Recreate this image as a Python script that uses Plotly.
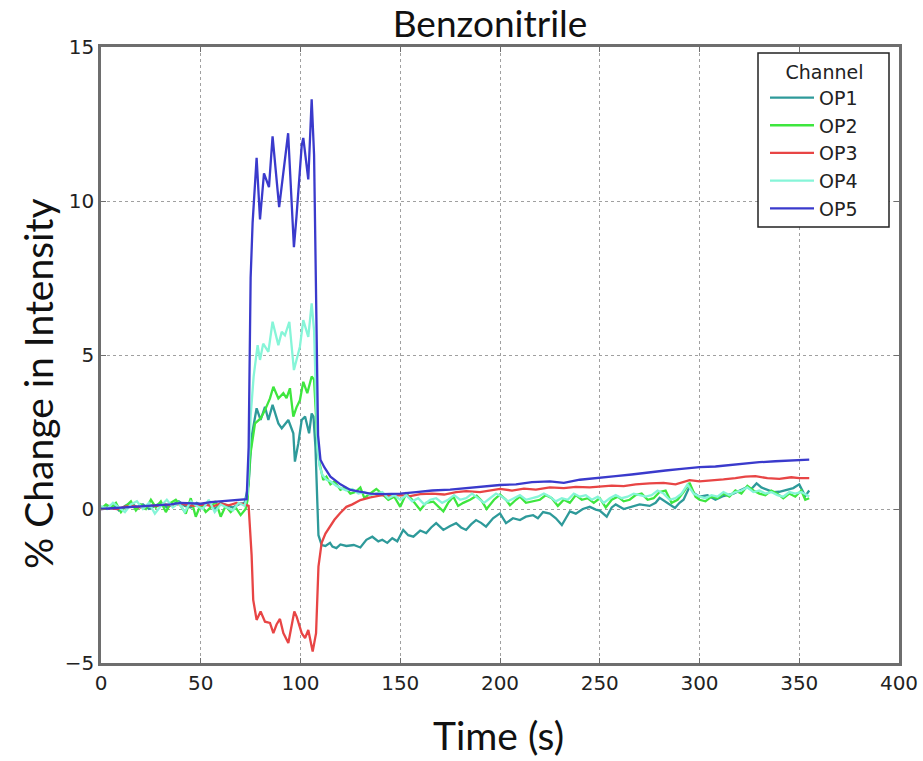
import plotly.graph_objects as go

# ---------------- data ----------------
t_op1 = [0, 3, 6, 9, 12, 15, 18, 21, 24, 27, 30, 33, 36, 39, 42, 45, 48, 51, 54, 57, 60, 63, 66, 69, 72,
         74, 75.5, 78, 80, 82.2, 83.9, 86, 88.9, 90.6, 93.9, 96.4, 97.2, 98.9, 100.6, 102.3, 104.3, 105.6, 106.5, 107.5,
         108.3, 109, 110.6, 112.5, 114.8, 116, 118, 120, 123, 126.7, 130, 133, 136, 139, 141, 143.5, 146, 148.5,
         151.5, 154, 156.6, 160, 163, 165.5, 168, 171.6, 175, 178, 180.5, 183, 185.5, 188, 190.5, 193, 196.5,
         200, 203, 206.5, 210, 213, 216.6, 219, 221.6, 225, 228, 231, 233, 235, 238, 241.5, 245, 248, 250,
         253.5, 256, 258, 262, 266, 270, 275, 278, 280, 284, 287.7, 290, 292, 295, 297.5, 300, 304, 308, 312,
         317, 320, 323.5, 326, 328.6, 331, 334, 337, 340, 343.5, 347, 350, 353, 355]
v_op1 = [0.0, 0.05, 0.15, -0.05, 0.1, 0.2, 0.05, 0.15, 0.0, 0.1, 0.2, 0.05, 0.15, 0.25, 0.1, 0.05, 0.2, 0.1, 0.15, 0.0, 0.2, 0.12, 0.05, 0.15, 0.2,
         0.8, 2.35, 3.27, 2.89, 3.32, 2.89, 3.38, 2.78, 2.62, 2.89, 2.46, 1.54, 2.13, 2.89, 3.0, 2.46, 3.1, 3.0, 2.0,
         0.2, -0.85, -1.17, -1.2, -1.1, -1.22, -1.27, -1.15, -1.2, -1.17, -1.25, -1.0, -0.9, -1.05, -1.0, -1.1, -0.95, -1.05,
         -0.68, -0.85, -0.9, -0.7, -0.78, -0.6, -0.46, -0.68, -0.55, -0.46, -0.6, -0.68, -0.5, -0.36, -0.45, -0.57, -0.3,
         -0.14, -0.46, -0.3, -0.36, -0.25, -0.2, -0.3, -0.1, -0.15, -0.3, -0.52, -0.3, -0.08, -0.15, 0.0, 0.07, -0.02, -0.05,
         -0.25, 0.05, 0.15, 0.0, 0.07, 0.15, 0.1, 0.2, 0.36, 0.2, 0.03, 0.2, 0.3, 0.72, 0.5, 0.4, 0.45, 0.3, 0.42,
         0.5, 0.6, 0.7, 0.65, 0.83, 0.7, 0.62, 0.55, 0.56, 0.62, 0.68, 0.8, 0.42, 0.6]

t_op2 = [0, 2.5, 5, 7.5, 10, 12.5, 15, 17.5, 20, 22.5, 25, 27.5, 30, 32.5, 35, 37.5, 40, 42.5, 45, 47.5,
         50, 52.5, 55, 57.5, 60, 62.5, 65, 67.5, 70, 72.5,
         73.5, 74.7, 77.2, 80, 82.2, 84.7, 86.4, 88.9, 91.4, 93, 94.7, 96.4, 98, 99.7, 101.4, 103.4, 105.6, 106.8, 107.8, 108.5,
         109.5, 111.4, 113, 115, 117, 120, 122.5, 125, 127.5, 130, 132, 135, 138, 141.6, 144, 147, 150, 153, 156, 160,
         163, 166.6, 169, 171.6, 174, 176.6, 179, 181.6, 185, 188.3, 191, 193.3, 197, 200, 203, 205, 208, 210, 213, 216.6,
         220, 223, 226, 229, 232, 235, 238, 241, 244, 247, 250, 253, 256, 259, 262, 265, 268, 271, 274, 277,
         280, 283, 286, 289, 292, 295, 298, 300, 303, 306, 309, 312, 315, 318, 321, 324, 327, 330, 333, 336,
         339, 342, 345, 348, 351, 353, 355]
v_op2 = [0.0, 0.15, 0.05, 0.2, -0.1, 0.1, 0.25, -0.05, 0.15, 0.0, 0.3, 0.05, 0.25, -0.1, 0.2, 0.3, 0.1, -0.15, 0.35, -0.25,
         0.15, -0.1, 0.05, 0.25, -0.25, 0.1, -0.1, 0.05, -0.2, 0.0,
         0.3, 1.7, 2.78, 2.94, 3.21, 3.59, 3.97, 3.59, 3.76, 3.6, 3.92, 3.0, 3.3, 3.53, 4.13, 3.76, 4.3, 4.2, 3.0, 2.0,
         1.5, 0.94, 1.05, 0.8, 0.9, 0.62, 0.7, 0.5, 0.55, 0.7, 0.36, 0.5, 0.65, 0.45, 0.3, 0.4, 0.07, 0.5, 0.3, -0.03,
         0.2, 0.24, 0.1, -0.08, 0.2, 0.4, 0.1, 0.2, 0.3, 0.43, 0.25, 0.0, 0.3, 0.47, 0.3, 0.12, 0.3, 0.4, 0.2, 0.25,
         0.3, 0.45, 0.35, 0.1, 0.3, 0.2, 0.45, 0.3, 0.35, 0.2, 0.35, 0.05, 0.3, 0.4, 0.25, 0.3, 0.45, 0.5, 0.3, 0.35,
         0.55, 0.6, 0.2, 0.3, 0.55, 0.85, 0.4, 0.3, 0.25, 0.4, 0.35, 0.5, 0.4, 0.6, 0.5, 0.75, 0.6, 0.5, 0.45, 0.6,
         0.5, 0.35, 0.5, 0.4, 0.6, 0.3, 0.35]

t_op3 = [0, 4, 8, 12, 16, 20, 24, 28, 32, 36, 40, 44, 48, 52, 56, 60, 64, 68, 72,
         74, 75.5, 76.3, 78, 80, 82.2, 84.7, 86.4, 88, 89.7, 91.4, 93.9, 96.9, 98.1, 100.6, 102.3, 103.9, 106.1, 107.8,
         109, 110.6, 112.5, 114.8, 117, 119.8, 123, 126, 130, 135, 141, 146,
         150, 155, 160, 166, 172, 178, 183, 190, 196, 200,
         206, 212, 218, 225, 232, 238, 245, 250, 256, 262,
         268, 275, 282, 288, 295, 300, 306, 312, 318, 323,
         328, 334, 340, 346, 350, 355]
v_op3 = [0.0, 0.03, 0.0, 0.08, 0.1, 0.05, 0.12, 0.1, 0.15, 0.1, 0.18, 0.12, 0.1, 0.15, 0.08, 0.18, 0.12, 0.2, 0.15,
         0.1, -1.5, -2.95, -3.6, -3.33, -3.66, -3.7, -4.03, -3.75, -3.57, -4.03, -4.35, -3.33, -3.5, -4.03, -4.19, -3.93, -4.63, -4.03,
         -1.87, -1.1, -0.8, -0.57, -0.35, -0.14, 0.07, 0.15, 0.29, 0.38, 0.45, 0.42,
         0.45, 0.42, 0.48, 0.5, 0.47, 0.55, 0.58, 0.55, 0.62, 0.65,
         0.6, 0.66, 0.63, 0.7, 0.68, 0.72, 0.7, 0.72, 0.76, 0.74,
         0.8, 0.83, 0.85, 0.8, 0.94, 0.9, 0.92, 0.96, 1.0, 1.05,
         1.07, 1.0, 0.98, 1.03, 1.0, 1.0]

t_op4 = [0, 3, 6, 9, 12, 15, 18, 21, 24, 27, 30, 33, 36, 39, 42, 45, 48, 51, 54, 57, 60, 63, 66, 69, 72,
         73.5, 75, 76.5, 77.2, 78.5, 79.7, 81.3, 83.9, 86, 88.9, 90.6, 92.2, 94.4, 96.7, 98, 99.7, 101.4, 103.9, 105.6, 106.8, 107.8, 108.5,
         109.5, 111, 113, 115, 118, 120, 123, 126, 129, 132, 135, 138, 141, 144, 147, 150, 153, 156, 159, 162,
         165, 168, 171, 174, 177, 180, 183, 186, 189, 192, 195, 198, 201, 204, 207, 210, 213, 216, 219, 222,
         225, 228, 231, 234, 237, 240, 243, 246, 249, 252, 255, 258, 261, 264, 267, 270, 273, 276, 279, 282,
         285, 288, 291, 294, 297, 300, 303, 306, 309, 312, 315, 318, 321, 324, 327, 330, 333, 336, 339, 342,
         345, 348, 351, 354, 355]
v_op4 = [0.1, 0.0, 0.2, 0.05, -0.1, 0.15, 0.25, 0.0, 0.2, -0.15, 0.1, 0.3, 0.05, 0.2, -0.1, 0.25, 0.1, 0.0, 0.3, -0.1, 0.15, 0.05, -0.05, 0.2, 0.1,
         0.5, 3.0, 4.3, 4.73, 5.32, 4.84, 5.37, 5.1, 6.08, 5.32, 5.75, 5.64, 6.08, 4.51, 4.84, 5.27, 6.13, 5.59, 6.68, 5.8, 3.5, 2.0,
         1.4, 1.1, 0.95, 0.9, 0.75, 0.7, 0.6, 0.65, 0.5, 0.55, 0.45, 0.5, 0.55, 0.35, 0.45, 0.3, 0.45, 0.25, 0.35, 0.15,
         0.3, 0.35, 0.2, 0.3, 0.45, 0.3, 0.35, 0.5, 0.35, 0.2, 0.35, 0.5, 0.4, 0.25, 0.35, 0.45, 0.3, 0.35, 0.4, 0.5,
         0.4, 0.25, 0.35, 0.3, 0.5, 0.4, 0.45, 0.3, 0.4, 0.2, 0.35, 0.45, 0.35, 0.4, 0.5, 0.45, 0.4, 0.45, 0.6, 0.5,
         0.3, 0.35, 0.5, 0.8, 0.5, 0.4, 0.35, 0.45, 0.4, 0.55, 0.45, 0.55, 0.6, 0.7, 0.55, 0.6, 0.5, 0.55, 0.45, 0.4,
         0.55, 0.5, 0.55, 0.45, 0.4]

t_op5 = [0, 5, 10, 15, 20, 25, 30, 35, 40, 45, 50, 55, 60, 65, 70, 73,
         74, 75, 76, 78, 79.7, 81.7, 84.2, 86, 89.3, 93.8, 96.7, 98, 100.6, 101.4, 103.9, 105.6, 106.8, 107.8,
         108.8, 110, 112, 115, 120, 125, 130, 135, 141, 150, 158, 166, 175, 183, 191, 200,
         208, 216, 225, 232, 240, 250, 258, 266, 275, 283, 291, 300, 308, 316, 324, 330, 338, 345, 350, 355]
v_op5 = [0.0, 0.02, 0.05, 0.08, 0.1, 0.12, 0.12, 0.15, 0.2, 0.18, 0.17, 0.22, 0.25, 0.27, 0.3, 0.32,
         2.0, 7.5, 9.3, 11.4, 9.4, 10.9, 10.45, 12.1, 9.8, 12.2, 8.5, 9.5, 11.8, 12.05, 10.7, 13.3, 11.5, 6.0,
         2.4, 1.6, 1.35, 1.05, 0.8, 0.62, 0.55, 0.5, 0.48, 0.5, 0.55, 0.6, 0.63, 0.68, 0.72, 0.78,
         0.8, 0.87, 0.9, 0.85, 0.95, 1.03, 1.07, 1.12, 1.2, 1.25, 1.3, 1.36, 1.38, 1.43, 1.5, 1.52, 1.55, 1.58, 1.6, 1.6]

channel_names = ["OP1", "OP2", "OP3", "OP4", "OP5"]
channel_colors = ["#2e9a9a", "#3ee63e", "#e84545", "#86f5d8", "#3a3acc"]

x_ticks = [0, 50, 100, 150, 200, 250, 300, 350, 400]
y_ticks = [-5, 0, 5, 10, 15]
y_tick_text = ["\u22125", "0", "5", "10", "15"]

series = [(t_op1, v_op1), (t_op2, v_op2), (t_op3, v_op3), (t_op4, v_op4), (t_op5, v_op5)]
for tt, vv in series:
    assert len(tt) == len(vv), (len(tt), len(vv))

# ---------------- figure ----------------
W, H = 923, 761
PL, PR, PT, PB = 101, 899, 47, 663          # plot frame in window pixels
pw, ph = PR - PL, PB - PT


def px_x(p):
    return (p - PL) / pw


def px_y(p):
    return (PB - p) / ph


fig = go.Figure()
for (tt, vv), name, col in zip(series, channel_names, channel_colors):
    fig.add_trace(go.Scatter(x=tt, y=vv, mode="lines", name=name,
                             line=dict(color=col, width=2.3)))

grid = dict(showgrid=True, gridcolor="#a0a0a0", griddash="dot", gridwidth=1.2,
            zeroline=False, showline=True, linecolor="#6e6e6e", linewidth=2.5,
            mirror="ticks", ticks="inside", ticklen=5, tickcolor="#6e6e6e",
            tickfont=dict(family="DejaVu Sans", size=20, color="#222222"))

fig.update_xaxes(range=[0, 400], tickvals=x_ticks, **grid)
fig.update_yaxes(range=[-5, 15], tickvals=y_ticks, ticktext=y_tick_text, **grid)

fig.add_shape(type="rect", xref="paper", yref="paper",
              x0=px_x(758), x1=px_x(889), y0=px_y(227), y1=px_y(53),
              line=dict(color="#222222", width=1.5), fillcolor="white", layer="above")

fig.update_layout(
    width=W, height=H,
    margin=dict(l=PL, r=W - PR, t=PT, b=H - PB, autoexpand=False),
    paper_bgcolor="white", plot_bgcolor="white",
    title=dict(text="Benzonitrile", x=490 / W, xanchor="center",
               y=1 - 24.5 / H, yanchor="middle",
               font=dict(family="Lato", size=37, color="#111111")),
    showlegend=True,
    legend=dict(x=px_x(765), xanchor="left", y=px_y(54), yanchor="top",
                bgcolor="rgba(0,0,0,0)", borderwidth=0, itemwidth=44,
                font=dict(family="DejaVu Sans", size=19, color="#222222"),
                title=dict(text="\u00a0\u00a0\u00a0Channel", side="top center",
                           font=dict(family="DejaVu Sans", size=19, color="#222222"))),
    annotations=[
        dict(text="Time (s)", xref="paper", yref="paper", x=px_x(498.5), y=px_y(735),
             xanchor="center", yanchor="middle", showarrow=False,
             font=dict(family="Lato", size=39, color="#111111")),
        dict(text="% Change in Intensity", xref="paper", yref="paper", x=px_x(38), y=px_y(384),
             xanchor="center", yanchor="middle", showarrow=False, textangle=-90,
             font=dict(family="Lato", size=39, color="#111111")),
    ],
)

# the page body normally has an 8px margin; remove it so the figure sits at the window corner
fig.write_html("out.html", config={"displayModeBar": False},
               post_script="document.body.style.margin='0px';")
